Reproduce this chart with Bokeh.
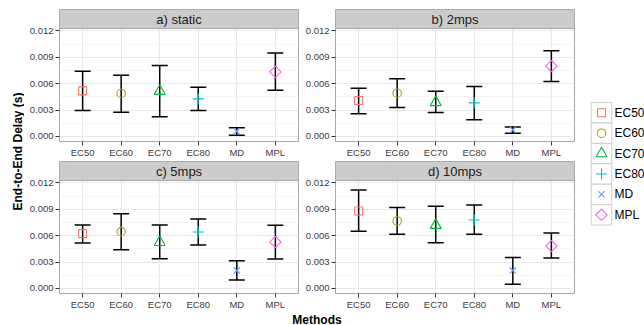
import numpy as np
from bokeh.plotting import figure
from bokeh.models import (Range1d, FixedTicker, Whisker, TeeHead, ColumnDataSource,
                          Label, PrintfTickFormatter)
from bokeh.layouts import row, column
from bokeh.embed import file_html
from bokeh.resources import INLINE
from bokeh.core.properties import value

# ---------------- data ----------------
methods = ["EC50", "EC60", "EC70", "EC80", "MD", "MPL"]
panel_titles = ["a) static", "b) 2mps", "c) 5mps", "d) 10mps"]
y_ticks = [0.0, 0.003, 0.006, 0.009, 0.012]
y_minor = [0.0015, 0.0045, 0.0075, 0.0105]

static_mean = [0.00518, 0.00489, 0.00515, 0.00427, 0.00060, 0.00734]
static_lo   = [0.00295, 0.00276, 0.00223, 0.00295, 0.00015, 0.00526]
static_hi   = [0.00742, 0.00697, 0.00807, 0.00560, 0.00098, 0.00950]

mps2_mean = [0.00409, 0.00492, 0.00387, 0.00382, 0.00075, 0.00799]
mps2_lo   = [0.00257, 0.00330, 0.00273, 0.00189, 0.00038, 0.00625]
mps2_hi   = [0.00549, 0.00655, 0.00515, 0.00568, 0.00109, 0.00973]

mps5_mean = [0.00623, 0.00646, 0.00525, 0.00642, 0.00205, 0.00528]
mps5_lo   = [0.00516, 0.00440, 0.00338, 0.00494, 0.00095, 0.00334]
mps5_hi   = [0.00721, 0.00850, 0.00721, 0.00790, 0.00315, 0.00718]

mps10_mean = [0.00881, 0.00767, 0.00719, 0.00778, 0.00205, 0.00482]
mps10_lo   = [0.00649, 0.00615, 0.00520, 0.00615, 0.00049, 0.00346]
mps10_hi   = [0.01120, 0.00919, 0.00934, 0.00949, 0.00353, 0.00630]

# ---------------- style ----------------
FONT = "Liberation Sans"
colors = ["#F8766D", "#B79F00", "#00BA38", "#00BFC4", "#619CFF", "#F564E3"]
markers = ["square", "circle", "triangle", "cross", "x", "square"]
msizes = [8, 8.5, 11, 11, 9, 8]
mangles = [0, 0, 0, 0, 0, np.pi / 4]

PANEL_LO, PANEL_HI = -0.00057, 0.01227
FRAME_W, FRAME_H, STRIP_PX = 239, 132, 19
per_px = (PANEL_HI - PANEL_LO) / (FRAME_H - STRIP_PX)
STRIP_TOP = PANEL_HI + STRIP_PX * per_px
BORDER_C = "#a6a6a6"
GRID_C = "#e8e8e8"
TICK_TXT = "#3a3a3a"
AXIS_B = 20


def make_panel(title, mean, lo, hi, left, right, top):
    xs = list(range(1, len(methods) + 1))
    p = figure(width=left + FRAME_W + right, height=top + FRAME_H + AXIS_B,
               min_border_left=left, min_border_right=right,
               min_border_top=top, min_border_bottom=AXIS_B,
               x_range=Range1d(0.4, len(methods) + 0.6),
               y_range=Range1d(PANEL_LO, STRIP_TOP),
               toolbar_location=None, output_backend="svg", title=None)
    p.background_fill_color = "white"
    p.border_fill_color = "white"
    p.outline_line_color = BORDER_C
    p.outline_line_width = 1

    xa = p.xaxis[0]
    xa.ticker = FixedTicker(ticks=xs)
    xa.major_label_overrides = {x: m for x, m in zip(xs, methods)}
    ya = p.yaxis[0]
    ya.ticker = FixedTicker(ticks=y_ticks, minor_ticks=y_minor)
    ya.formatter = PrintfTickFormatter(format="%.3f")
    for ax in (xa, ya):
        ax.axis_line_color = None
        ax.major_tick_out = 4
        ax.major_tick_in = 0
        ax.minor_tick_out = 0
        ax.minor_tick_in = 0
        ax.major_tick_line_color = "#333333"
        ax.major_tick_line_width = 1
        ax.major_label_text_font = FONT
        ax.major_label_text_font_size = "9.5px"
        ax.major_label_text_color = TICK_TXT
    xa.major_label_standoff = 1
    ya.major_label_standoff = 2

    p.xgrid.grid_line_color = GRID_C
    p.ygrid.grid_line_color = GRID_C
    p.ygrid.minor_grid_line_color = "#f5f5f5"

    src = ColumnDataSource(dict(x=xs, mean=mean, lo=lo, hi=hi, color=colors,
                                marker=markers, size=msizes, angle=mangles))
    w = Whisker(source=src, base="x", upper="hi", lower="lo",
                line_color="black", line_width=1.5,
                upper_head=TeeHead(size=16, line_color="black", line_width=1.5),
                lower_head=TeeHead(size=16, line_color="black", line_width=1.5))
    p.add_layout(w)
    p.scatter(x="x", y="mean", marker="marker", size="size", angle="angle",
              line_color="color", fill_color=None, line_width=1.1, source=src)

    # facet strip
    p.quad(left=[p.x_range.start], right=[p.x_range.end], bottom=[PANEL_HI],
           top=[STRIP_TOP], fill_color="#cccccc", line_color=BORDER_C, line_width=1)
    p.add_layout(Label(x=(p.x_range.start + p.x_range.end) / 2,
                       y=(PANEL_HI + STRIP_TOP) / 2, text=title,
                       text_align="center", text_baseline="middle",
                       text_font=FONT, text_font_size="13px", text_color="#1a1a1a"))
    return p


pa = make_panel(panel_titles[0], static_mean, static_lo, static_hi, 35, 2, 9)
pb = make_panel(panel_titles[1], mps2_mean, mps2_lo, mps2_hi, 35, 6, 9)
pc = make_panel(panel_titles[2], mps5_mean, mps5_lo, mps5_hi, 35, 2, 0)
pd = make_panel(panel_titles[3], mps10_mean, mps10_lo, mps10_hi, 35, 6, 0)

TOTAL_H = 325
XLAB_H = TOTAL_H - (9 + FRAME_H + AXIS_B) - (0 + FRAME_H + AXIS_B)


def blank(w, h):
    f = figure(width=w, height=h, x_range=Range1d(0, w), y_range=Range1d(0, h),
               x_axis_type=None, y_axis_type=None, min_border=0,
               toolbar_location=None, output_backend="svg", title=None)
    f.outline_line_color = None
    f.background_fill_color = "white"
    f.border_fill_color = "white"
    f.grid.visible = False
    return f


# y axis title
yf = blank(24, TOTAL_H)
yf.add_layout(Label(x=17, y=TOTAL_H - 151, text="End-to-End Delay (s)", angle=90,
                    angle_units="deg", text_align="center", text_baseline="alphabetic",
                    text_font=FONT, text_font_size="12px", text_font_style="bold",
                    text_color="black"))

# x axis title
xf = blank(556, XLAB_H)
xf.add_layout(Label(x=292.5, y=XLAB_H / 2, text="Methods", text_align="center",
                    text_baseline="middle", text_font=FONT, text_font_size="12px",
                    text_font_style="bold", text_color="black"))

# legend
lf = blank(64, TOTAL_H)
ly = [TOTAL_H - (112.3 + 20.4 * i) for i in range(len(methods))]
lsrc = ColumnDataSource(dict(y=ly, label=methods, color=colors, marker=markers,
                             size=msizes, angle=mangles))
lf.rect(x=21, y="y", width=20.6, height=20.4, fill_color="white",
        line_color="#cccccc", line_width=1, source=lsrc)
lf.scatter(x=21, y="y", marker="marker", size="size", angle="angle",
           line_color="color", fill_color=None, line_width=1.1, source=lsrc)
lf.text(x=34, y="y", text="label", text_font=value(FONT), text_font_size="12px",
        text_baseline="middle", text_align="left", text_color="black", source=lsrc)

root = row(yf, column(row(pa, pb), row(pc, pd), xf), lf)

with open("out.html", "w") as fh:
    fh.write(file_html(root, INLINE))
